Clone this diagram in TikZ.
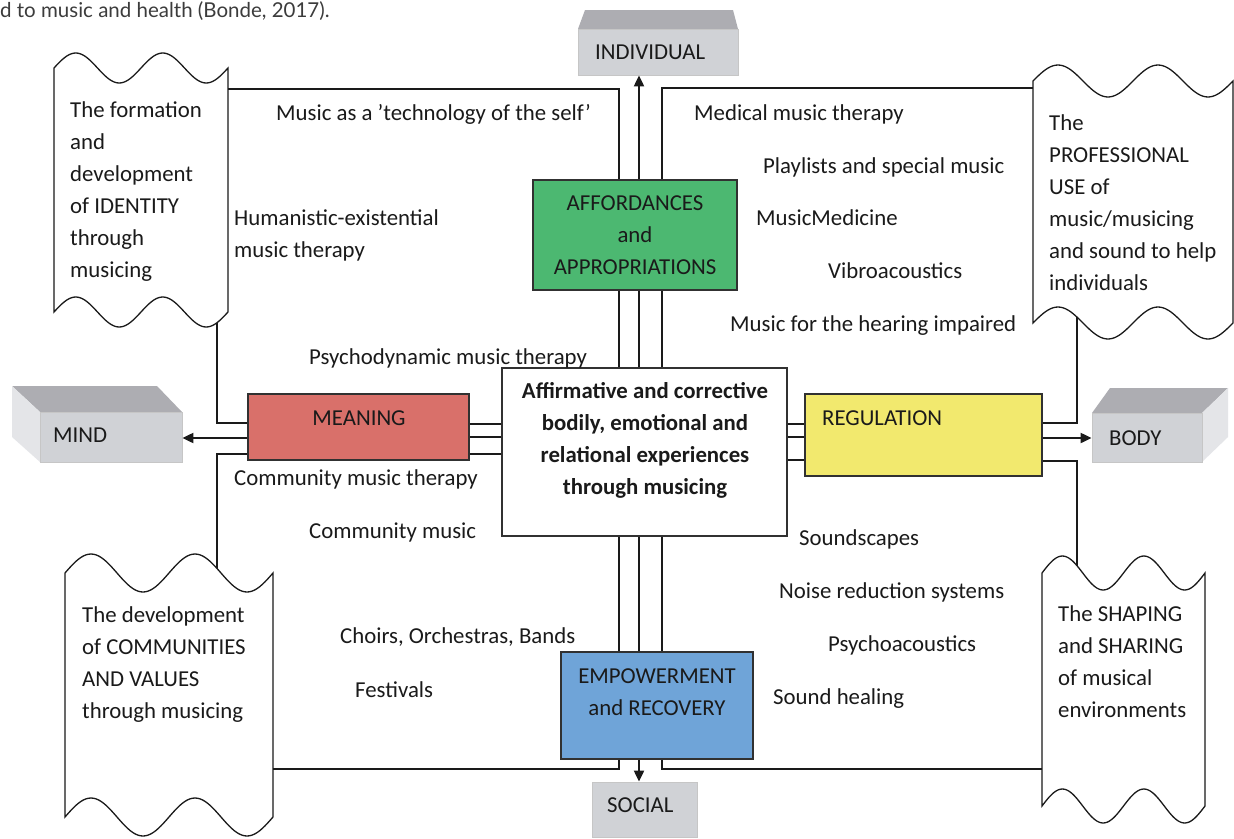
\documentclass[tikz,border=0pt]{standalone}
\usepackage{fontspec}
\setmainfont{Carlito}
\newfontfamily\capfont{Lato}
\usetikzlibrary{arrows.meta}
\definecolor{cgreen}{HTML}{4CB871}
\definecolor{cred}{HTML}{D9706A}
\definecolor{cyellow}{HTML}{F2E96E}
\definecolor{cblue}{HTML}{6FA4D8}
\definecolor{gtop}{HTML}{ADADB2}
\definecolor{gfront}{HTML}{D0D2D6}
\definecolor{gside}{HTML}{E4E5E8}
\definecolor{ink}{HTML}{1A1A1A}
\newcommand\wvbox[5]{% x1 x2 ytop ybot amp
  \filldraw[wave] (#1,#3) -- plot[domain=0:1,samples=81,variable=\t] ({#1+\t*(#2-#1)},{#3-#5*sin(720*\t)}) -- (#2,#4) -- plot[domain=1:0,samples=81,variable=\t] ({#1+\t*(#2-#1)},{#4-#5*sin(720*\t)}) -- cycle;}
\begin{document}
\begin{tikzpicture}[x=1pt,y=-1pt,
  txt/.style={font=\fontsize{22.8}{32}\selectfont, text=ink, inner sep=0pt, anchor=base west, align=left},
  ctxt/.style={txt, anchor=base, align=center},
  ln/.style={line width=1.3pt, draw=ink},
  arr/.style={line width=2pt, draw=ink, -{Triangle[length=11pt,width=10pt]}},
  box/.style={draw=ink!90, line width=1.5pt, inner sep=0pt},
  gbox/.style={fill=gfront, draw=gray!45, line width=0.8pt, inner sep=0pt},
  wave/.style={fill=white, draw=ink, line width=1.3pt}]
\useasboundingbox (0,0) rectangle (1234,838);
\fill[white] (0,0) rectangle (1234,838);

% caption
\node[inner sep=0pt, anchor=base west, font=\capfont\fontsize{20.5}{24}\selectfont, text=ink!85] (cap) at (0,17) {d to music and health (Bonde, 2017).};

% 3D grey boxes
\fill[gtop] (578,29) -- (585,10) -- (733,10) -- (738,29) -- cycle;
\node[gbox, minimum width=160pt, minimum height=46pt] (ind) at (658,52) {};
\fill[gtop] (12,386) -- (157,386) -- (182,412) -- (40,412) -- cycle;
\fill[gside] (12,386) -- (40,412) -- (40,462) -- (12,437) -- cycle;
\node[gbox, minimum width=142pt, minimum height=50pt] (mind) at (111,437) {};
\fill[gtop] (1092,413) -- (1110,388) -- (1228,388) -- (1202,413) -- cycle;
\fill[gside] (1202,413) -- (1228,388) -- (1228,437) -- (1202,462) -- cycle;
\node[gbox, minimum width=110pt, minimum height=49pt] (body) at (1147,437.5) {};
\node[gbox, minimum width=105pt, minimum height=55pt] (social) at (644.5,809.5) {};

% coloured boxes
\node[box, fill=cgreen, minimum width=204pt, minimum height=110pt] (aff) at (635,235) {};
\node[box, fill=white, minimum width=285pt, minimum height=168pt] (ctr) at (644.5,452) {};
\node[box, fill=cred, minimum width=221pt, minimum height=66pt] (mean) at (358.5,427) {};
\node[box, fill=cyellow, minimum width=237pt, minimum height=82pt] (reg) at (923.5,435) {};
\node[box, fill=cblue, minimum width=192pt, minimum height=107pt] (emp) at (657,705.5) {};

% wave connection points
\coordinate (tlR) at (220,89);
\coordinate (tlB) at (217,300);
\coordinate (blT) at (217,600);
\coordinate (blR) at (265,769);
\coordinate (trL) at (1042,88);
\coordinate (trB) at (1077,300);
\coordinate (brT) at (1077,600);
\coordinate (brL) at (1050,769);

% connectors
\draw[arr] ([xshift=4pt]aff.north) -- ([xshift=4pt]aff.north |- ind.south);
\draw[ln] ([xshift=-16pt]aff.north) |- (tlR);
\draw[ln] ([xshift=27pt]aff.north) |- (trL);
\foreach \s in {-16,4,27} \draw[ln] ([xshift=\s pt]aff.south) -- ([xshift=\s pt]aff.south |- ctr.north);
\foreach \s in {28,15,-2} \draw[ln] ([yshift=\s pt]ctr.west) -- ([yshift=\s pt]ctr.west -| mean.east);
\foreach \s in {28,15,-8} \draw[ln] ([yshift=\s pt]ctr.east) -- ([yshift=\s pt]ctr.east -| reg.west);
\draw[ln] ([yshift=4pt]mean.west) -| (tlB);
\draw[arr] ([yshift=-11pt]mean.west) -- ([yshift=-11pt]mean.west -| mind.east);
\draw[ln] ([yshift=-27pt]mean.west) -| (blT);
\draw[ln] ([yshift=12pt]reg.east) -| (trB);
\draw[arr] ([yshift=-3pt]reg.east) -- ([yshift=-3pt]reg.east -| body.west);
\draw[ln] ([yshift=-26pt]reg.east) -| (brT);
\foreach \s in {-25.5,-5.5,17.5} \draw[ln] ([xshift=\s pt]ctr.south) -- ([xshift=\s pt]ctr.south |- emp.north);
\draw[arr] ([xshift=-18pt]emp.south) -- ([xshift=-18pt]emp.south |- social.north);
\draw[ln] ([xshift=-38pt]emp.south) |- (blR);
\draw[ln] ([xshift=5pt]emp.south) |- (brL);

% wavy boxes
\wvbox{54}{228}{68}{312}{15}
\wvbox{1033}{1233}{81}{323}{16}
\wvbox{65}{273}{573}{817}{19}
\wvbox{1042}{1205}{573}{806}{17}

% box texts (multi-line nodes: base = last line)
\node[txt] (tind) at (595,59.5) {INDIVIDUAL};
\node[txt] (tmind) at (53,442.5) {MIND};
\node[txt] (tbody) at (1109,445.5) {BODY};
\node[txt] (tsoc) at (607,812.5) {SOCIAL};
\node[ctxt] (taff) at (635,274.5) {AFFORDANCES\\and\\APPROPRIATIONS};
\node[ctxt] (tmean) at (359,425.5) {MEANING};
\node[txt] (treg) at (822,425.5) {REGULATION};
\node[ctxt] (temp) at (657,715.5) {EMPOWERMENT\\and RECOVERY};
\node[ctxt, font=\fontsize{22.8}{32}\selectfont\bfseries] (tctr) at (645,494.5) {Affirmative and corrective\\bodily, emotional and\\relational experiences\\through musicing};

% wavy box texts
\node[txt] (wtl) at (70,277.5) {The formation\\and\\development\\of IDENTITY\\through\\musicing};
\node[txt] (wtr) at (1049,290.5) {The\\PROFESSIONAL\\USE of\\music/musicing\\and sound to help\\individuals};
\node[txt] (wbl) at (82,718.5) {The development\\of COMMUNITIES\\AND VALUES\\through musicing};
\node[txt] (wbr) at (1058,717.5) {The SHAPING\\and SHARING\\of musical\\environments};

% field labels
\node[txt] (l1) at (276,120.5) {Music as a ’technology of the self’};
\node[txt] (l2) at (694,120.5) {Medical music therapy};
\node[txt] (l3) at (763,173.5) {Playlists and special music};
\node[txt] (l4) at (756,225.5) {MusicMedicine};
\node[txt] (l5) at (828,278.5) {Vibroacoustics};
\node[txt] (l6) at (730,331.5) {Music for the hearing impaired};
\node[txt] (l7) at (234,257.5) {Humanistic-existential\\music therapy};
\node[txt] (l8) at (309,364.5) {Psychodynamic music therapy};
\node[txt] (l9) at (234,485.5) {Community music therapy};
\node[txt] (l10) at (309,538.5) {Community music};
\node[txt] (l11) at (340,643.5) {Choirs, Orchestras, Bands};
\node[txt] (l12) at (355,697.5) {Festivals};
\node[txt] (l13) at (799,545.5) {Soundscapes};
\node[txt] (l14) at (779,598.5) {Noise reduction systems};
\node[txt] (l15) at (828,651.5) {Psychoacoustics};
\node[txt] (l16) at (773,704.5) {Sound healing};
\end{tikzpicture}
\end{document}
